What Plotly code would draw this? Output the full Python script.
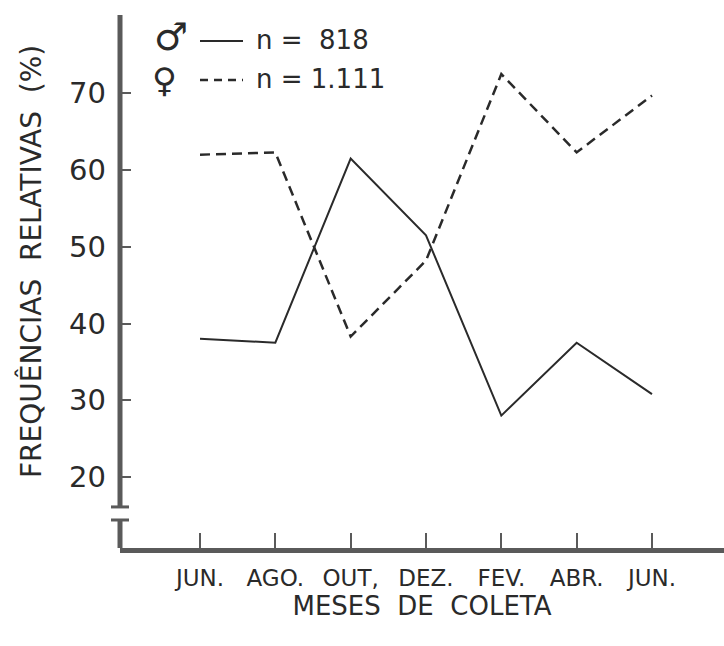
import plotly.graph_objects as go

months = ["JUN.", "AGO.", "OUT,", "DEZ.", "FEV.", "ABR.", "JUN."]
male = [38.0, 37.5, 61.5, 51.5, 28.0, 37.5, 30.8]
female = [62.0, 62.3, 38.3, 48.2, 72.5, 62.3, 69.7]
male_label = "n =\u00a0\u00a0818"
female_label = "n = 1.111"
yticks = [20, 30, 40, 50, 60, 70]

x = list(range(len(months)))
ink = "#2a2a2a"
axis_col = "#5a5a5a"
font = "DejaVu Sans"
sp = "\u00a0\u00a0"

fig = go.Figure()
fig.add_trace(go.Scatter(x=x, y=male, mode="lines", name=male_label,
                         line=dict(color=ink, width=2)))
fig.add_trace(go.Scatter(x=x, y=female, mode="lines", name=female_label,
                         line=dict(color=ink, width=2.5, dash="10px,6px")))

y_break_top = 16.1
y_break_bot = 14.4
y_top = 80.2
y_bottom = 10.75

PLOT_H = 533.0
def py(pixel_y):
    return (548 - pixel_y) / PLOT_H

shapes = [
    dict(type="line", xref="paper", yref="y", x0=0, x1=0, y0=y_break_top, y1=y_top,
         line=dict(color=axis_col, width=5)),
    dict(type="line", xref="paper", yref="y", x0=0, x1=0, y0=y_bottom, y1=y_break_bot,
         line=dict(color=axis_col, width=5)),
    dict(type="line", xref="paper", yref="y", xsizemode="pixel", xanchor=0,
         x0=-9, x1=9, y0=y_break_top, y1=y_break_top, line=dict(color=axis_col, width=3)),
    dict(type="line", xref="paper", yref="y", xsizemode="pixel", xanchor=0,
         x0=-9, x1=9, y0=y_break_bot, y1=y_break_bot, line=dict(color=axis_col, width=3)),
    # legend samples
    dict(type="line", xref="paper", yref="paper", xsizemode="pixel", xanchor=0,
         x0=80, x1=123, y0=py(41), y1=py(41), line=dict(color=ink, width=2)),
    dict(type="line", xref="paper", yref="paper", xsizemode="pixel", xanchor=0,
         x0=80, x1=123, y0=py(80), y1=py(80), line=dict(color=ink, width=2.5, dash="8px,6px")),
]

annotations = [
    dict(text="FREQUÊNCIAS" + sp + "RELATIVAS" + sp + "(%)", textangle=-90,
         xref="paper", yref="paper", x=0, xshift=-89, y=py(262), showarrow=False,
         font=dict(family=font, size=28, color=ink), xanchor="center", yanchor="middle"),
    dict(text="♂", xref="paper", yref="paper", x=0, xshift=51, y=py(37),
         showarrow=False, font=dict(family=font, size=38, color=ink),
         xanchor="center", yanchor="middle"),
    dict(text="♀", xref="paper", yref="paper", x=0, xshift=44, y=py(80),
         showarrow=False, font=dict(family=font, size=34, color=ink),
         xanchor="center", yanchor="middle"),
    dict(text=male_label, xref="paper", yref="paper", x=0, xshift=134, y=py(40),
         showarrow=False, font=dict(family=font, size=26, color=ink),
         xanchor="left", yanchor="middle"),
    dict(text=female_label, xref="paper", yref="paper", x=0, xshift=134, y=py(79),
         showarrow=False, font=dict(family=font, size=26, color=ink),
         xanchor="left", yanchor="middle"),
]

fig.update_layout(
    width=724, height=646,
    margin=dict(l=120, r=0, t=15, b=98),
    paper_bgcolor="white", plot_bgcolor="white",
    font=dict(family=font, color=ink),
    showlegend=False,
    shapes=shapes,
    annotations=annotations,
    xaxis=dict(
        range=[-1.062, 6.956], tickmode="array", tickvals=x, ticktext=months,
        ticks="inside", ticklen=15, tickwidth=2, tickcolor=axis_col,
        showline=True, linewidth=5, linecolor=axis_col,
        showgrid=False, zeroline=False,
        tickfont=dict(family=font, size=23, color=ink),
        ticklabelstandoff=5,
        title=dict(text="MESES" + sp + "DE" + sp + "COLETA",
                   font=dict(family=font, size=26, color=ink), standoff=2),
    ),
    yaxis=dict(
        range=[y_bottom, y_top], tickmode="array", tickvals=yticks,
        ticks="inside", ticklen=11, tickwidth=2, tickcolor=axis_col,
        showline=False, showgrid=False, zeroline=False,
        tickfont=dict(family=font, size=29, color=ink),
        ticklabelstandoff=13,
    ),
)

fig.write_html("out.html")
